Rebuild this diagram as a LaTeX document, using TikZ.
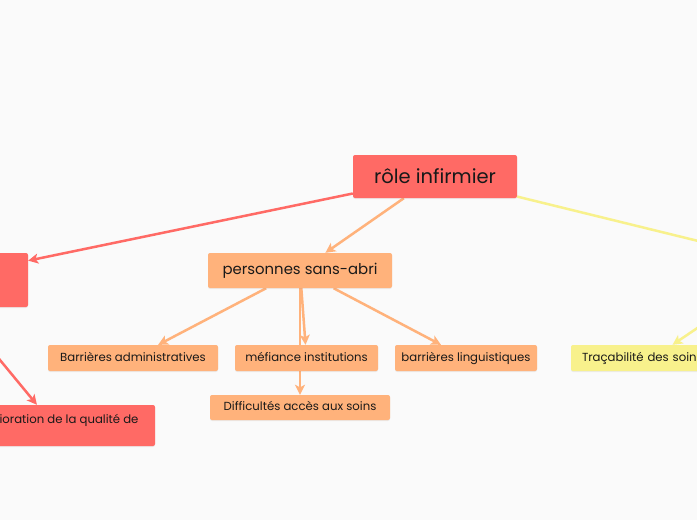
\documentclass[tikz,border=0pt]{standalone}
\usepackage{fontspec}
\setmainfont{Poppins}
\usepackage{xcolor}
\usetikzlibrary{arrows.meta,shadows,backgrounds}

\definecolor{mmred}{HTML}{FF6A65}
\definecolor{mmorange}{HTML}{FFB27B}
\definecolor{mmyellow}{HTML}{F8F18C}
\definecolor{mmbg}{HTML}{FAFAFA}

\begin{document}
\begin{tikzpicture}[x=1pt,y=-1pt,
  box/.style={rectangle,rounded corners=2pt,inner sep=0pt,text=black!90,
    drop shadow={shadow xshift=0pt,shadow yshift=-1pt,opacity=0.12}},
  redbox/.style={box,fill=mmred},
  orbox/.style={box,fill=mmorange},
  yelbox/.style={box,fill=mmyellow},
  small/.style={font=\fontsize{11.7}{14}\selectfont,minimum height=26pt,text height=9pt,text depth=3pt},
  link/.style={line width=2.5pt,-{Stealth[length=10pt,width=10pt,inset=2.5pt]}}]
\useasboundingbox(0,0)rectangle(697,520);
\clip(0,0)rectangle(697,520);
% main topic
\node[redbox,minimum width=164pt,minimum height=43pt,font=\fontsize{19.5}{23}\selectfont](role)at(435,176.5){rôle infirmier};
% branches
\node[redbox,minimum width=188pt,minimum height=54pt](left)at(-66,280){};
\node[orbox,minimum width=184pt,minimum height=35pt,font=\fontsize{14.9}{18}\selectfont](sdf)at(300,270.5){personnes sans-abri};
\coordinate(yel)at(792,264);
% sub topics
\node[orbox,small,minimum width=170pt](admin)at(133,358){Barrières administratives};
\node[orbox,small,minimum width=143pt](mefi)at(306.5,358){méfiance institutions};
\node[orbox,small,minimum width=142pt](ling)at(466,358){barrières linguistiques};
\node[orbox,small,minimum width=180pt,minimum height=25pt](acces)at(300,407.5){Difficultés accès aux soins};
\node[yelbox,small,text width=142pt,inner xsep=11pt,align=left](trac)at(653,358){Traçabilité des soins};
\node[redbox,small,minimum width=202pt,minimum height=41pt,text height=9pt,text depth=14pt](amel)at(54,425.5){Amélioration de la qualité de};
% links
\begin{scope}[on background layer]
\fill[mmbg](0,0)rectangle(697,520);
\draw[link,mmred](role)--(left);
\draw[link,mmorange](role)--(sdf);
\draw[line width=2.5pt,mmyellow](role)--(yel);
\draw[link,mmyellow](yel)--(trac);
\draw[link,mmred](left)--(amel);
\foreach \t in {admin,mefi,ling,acces}
  \draw[link,mmorange](sdf)--(\t);
\end{scope}
\end{tikzpicture}
\end{document}
